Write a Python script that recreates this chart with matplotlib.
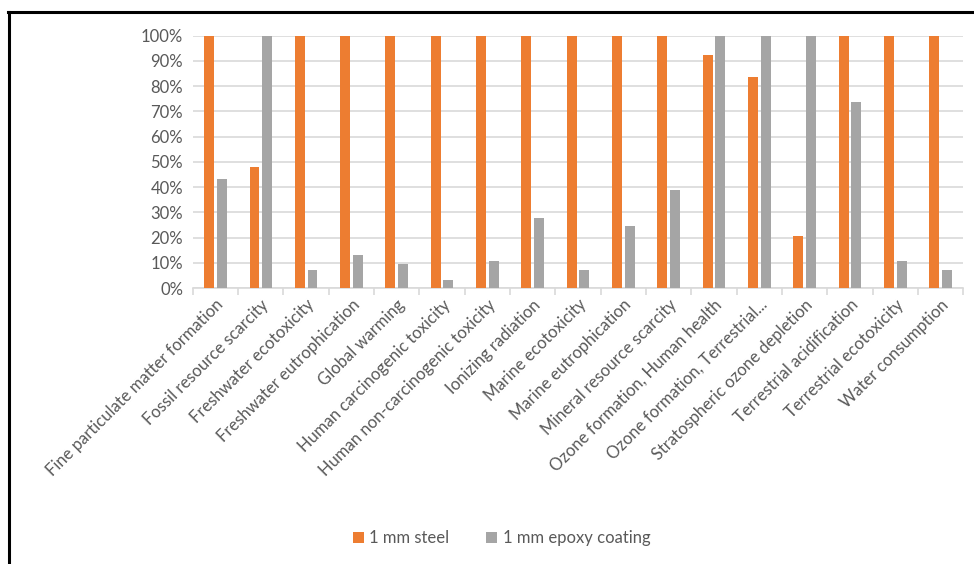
import numpy as np
import matplotlib.pyplot as plt
from matplotlib.lines import Line2D
from matplotlib.ticker import PercentFormatter

plt.rcParams['font.family'] = ['Lato', 'DejaVu Sans']

categories = [
    "Fine particulate matter formation",
    "Fossil resource scarcity",
    "Freshwater ecotoxicity",
    "Freshwater eutrophication",
    "Global warming",
    "Human carcinogenic toxicity",
    "Human non-carcinogenic toxicity",
    "Ionizing radiation",
    "Marine ecotoxicity",
    "Marine eutrophication",
    "Mineral resource scarcity",
    "Ozone formation, Human health",
    "Ozone formation, Terrestrial...",
    "Stratospheric ozone depletion",
    "Terrestrial acidification",
    "Terrestrial ecotoxicity",
    "Water consumption",
]
steel = [100, 48.0, 100, 100, 100, 100, 100, 100, 100, 100, 100, 92.3, 83.6, 20.6, 100, 100, 100]
epoxy = [43.4, 100, 7.4, 13.0, 9.7, 3.3, 10.7, 27.6, 7.4, 24.6, 38.8, 100, 100, 100, 73.8, 10.7, 7.4]

orange = "#ED7D31"
grey = "#A5A5A5"
text_col = "#595959"

fig = plt.figure(figsize=(9.74, 5.64), dpi=100)
ax = fig.add_axes([0.198, 0.489, 0.791, 0.448])

x = np.arange(len(categories))
w = 0.22
ax.bar(x - 0.14, steel, w, color=orange, label="1 mm steel", zorder=3)
ax.bar(x + 0.14, epoxy, w, color=grey, label="1 mm epoxy coating", zorder=3)

ax.set_xlim(-0.5, len(categories) - 0.5)
ax.set_ylim(0, 100)
ax.set_yticks(np.arange(0, 101, 10))
ax.yaxis.set_major_formatter(PercentFormatter(decimals=0))
ax.grid(axis='y', color="#D9D9D9", linewidth=1.2, zorder=0)

for s in ['top', 'right', 'left']:
    ax.spines[s].set_visible(False)
ax.spines['bottom'].set_color("#D9D9D9")
ax.spines['bottom'].set_linewidth(1.2)

# ticks between categories, labels at centres
ax.set_xticks(np.arange(-0.5, len(categories), 1.0))
ax.set_xticklabels([])
ax.set_xticks(x, minor=True)
ax.set_xticklabels(categories, minor=True, rotation=45, ha='right',
                   rotation_mode='anchor', fontsize=12, color=text_col)
ax.tick_params(axis='x', which='major', length=5, color="#D9D9D9", width=1.2)
ax.tick_params(axis='x', which='minor', length=0, pad=6)
ax.tick_params(axis='y', length=0, labelsize=12, labelcolor=text_col, pad=7)

fig.legend(loc='center', bbox_to_anchor=(0.515, 0.046), ncol=2, frameon=False,
           fontsize=12, labelcolor=text_col, handlelength=0.65, handleheight=0.65,
           handletextpad=0.35, columnspacing=2.2)

# outer frame
fig.add_artist(Line2D([0.0095, 0.0095], [0, 0.979], transform=fig.transFigure, color="black", linewidth=2.2))
fig.add_artist(Line2D([0.0085, 1.0], [0.979, 0.979], transform=fig.transFigure, color="black", linewidth=2.2))

fig.savefig("out.png", dpi=100)
